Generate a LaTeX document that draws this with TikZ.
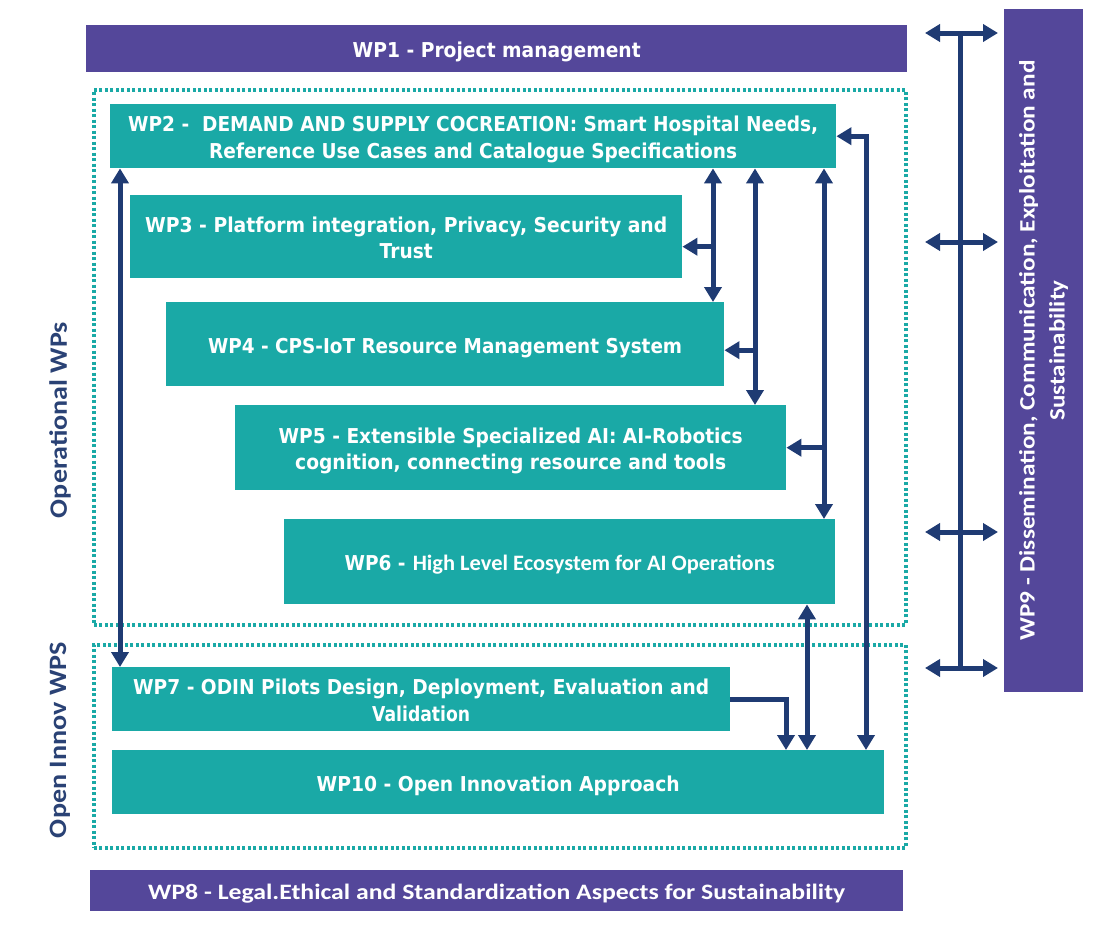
\documentclass[tikz,border=0pt]{standalone}
\usepackage{fontspec}
\usepackage{graphicx}
\setmainfont{DejaVu Sans}
\newfontfamily\calfont{Carlito}
\usetikzlibrary{arrows.meta,calc}
\definecolor{tealbox}{HTML}{1AA9A6}
\definecolor{purpbar}{HTML}{54479A}
\definecolor{navyline}{HTML}{1F3B73}
\definecolor{navytext}{HTML}{2A4275}
\newsavebox\fitbox
\newcommand\hfit[2]{\sbox\fitbox{#2}\pgfmathsetmacro\fitr{#1/\the\wd\fitbox}\scalebox{\fitr}[1]{\usebox\fitbox}}
\newcommand\topstrut{\rule{0pt}{23.5pt}}
\newcommand\botstrut{\rule[-5.5pt]{0pt}{5.5pt}}
\begin{document}
\begin{tikzpicture}[x=1pt,y=-1pt,
  >={Triangle[length=15pt,width=17pt]},
  wpbox/.style={fill=tealbox,text=white,inner sep=0pt,anchor=north west,align=center,
    font=\bfseries\fontsize{20.5}{26.5}\selectfont},
  barbox/.style={fill=purpbar,text=white,inner sep=0pt,align=center},
  dotframe/.style={draw=tealbox,line width=3.5pt,dash pattern=on 2.8pt off 2.7pt,inner sep=0pt,anchor=north west},
  link/.style={draw=navyline,line width=5pt},
  sidelabel/.style={rotate=90,text=navytext,font=\calfont\bfseries\fontsize{25}{25}\selectfont}]
\useasboundingbox (0,0) rectangle (1117,929);
\fill[white] (0,0) rectangle (1117,929);

% dotted group frames
\node[dotframe,minimum width=812pt,minimum height=535pt] (op) at (92,88) {};
\node[dotframe,minimum width=812pt,minimum height=203pt] (oi) at (92,643) {};

% side labels
\node[sidelabel] (oplab) at (60,420) {\hfit{196}{Operational WPs}};
\node[sidelabel] (oilab) at (60,740) {\hfit{196}{Open Innov WPS}};

% purple bars
\node[barbox,anchor=north west,minimum width=821pt,minimum height=47pt,
  font=\bfseries\fontsize{20.5}{24}\selectfont] (wp1) at (86,25)
  {\topstrut\hfit{288}{WP1 - Project management}\botstrut};
\node[barbox,anchor=north west,minimum width=813pt,minimum height=41pt,
  font=\calfont\bfseries\fontsize{22}{24}\selectfont] (wp8) at (90,870)
  {\topstrut\hfit{697}{WP8 - Legal.Ethical and Standardization Aspects for Sustainability}\botstrut};
\node[barbox,rotate=90,minimum width=683pt,minimum height=79pt,
  font=\calfont\bfseries\fontsize{22}{30}\selectfont] (wp9) at (1043.5,350.5)
  {\hfit{580}{WP9 - Dissemination, Communication, Exploitation and}\\\hfit{140}{Sustainability}};

% teal work-package boxes
\node[wpbox,minimum width=726pt,minimum height=64pt] (wp2) at (110,104)
  {\topstrut\hfit{690}{WP2 -\ \ DEMAND AND SUPPLY COCREATION: Smart Hospital Needs,}\\\hfit{528}{Reference Use Cases and Catalogue Specifications}\botstrut};
\node[wpbox,minimum width=552pt,minimum height=83pt] (wp3) at (130,195)
  {\topstrut\hfit{522}{WP3 - Platform integration, Privacy, Security and}\\\hfit{53}{Trust}\botstrut};
\node[wpbox,minimum width=558pt,minimum height=84pt] (wp4) at (166,302)
  {\topstrut\hfit{474}{WP4 - CPS-IoT Resource Management System}\botstrut};
\node[wpbox,minimum width=551pt,minimum height=85pt] (wp5) at (235,405)
  {\topstrut\hfit{464}{WP5 - Extensible Specialized AI: AI-Robotics}\\\hfit{431}{cognition, connecting resource and tools}\botstrut};
\node[wpbox,minimum width=551pt,minimum height=85pt] (wp6) at (284,519)
  {\topstrut\hfit{61}{WP6 -} {\calfont\fontsize{22}{24}\selectfont\hfit{362}{High Level Ecosystem for AI Operations}}\botstrut};
\node[wpbox,minimum width=618pt,minimum height=64pt] (wp7) at (112,667)
  {\topstrut\hfit{576}{WP7 - ODIN Pilots Design, Deployment, Evaluation and}\\\hfit{98}{Validation}\botstrut};
\node[wpbox,minimum width=772pt,minimum height=64pt] (wp10) at (112,750)
  {\topstrut\hfit{363}{WP10 - Open Innovation Approach}\botstrut};

% connector columns
\coordinate (xa) at (120,0);
\coordinate (xb) at (713,0);
\coordinate (xc) at (755,0);
\coordinate (xd) at (824,0);
\coordinate (xe) at (866,0);
\coordinate (xf) at (807,0);
\coordinate (xg) at (786,0);

\draw[link,<->] (wp2.south -| xa) -- (wp7.north -| xa);
\draw[link,<->] (wp2.south -| xb) -- (wp4.north -| xb);
\draw[link,->] ($(wp3.east -| xb)+(0,10)$) -- ($(wp3.east)+(0,10)$);
\draw[link,<->] (wp2.south -| xc) -- (wp5.north -| xc);
\draw[link,->] ($(wp4.east -| xc)+(0,6)$) -- ($(wp4.east)+(0,6)$);
\draw[link,<->] (wp2.south -| xd) -- (wp6.north -| xd);
\draw[link,->] (wp5.east -| xd) -- (wp5.east);
\draw[link,<->] (wp10.north -| xe) |- (wp2.east);
\draw[link,<->] (wp6.south -| xf) -- (wp10.north -| xf);
\draw[link,->] (wp7.east) -| (wp10.north -| xg);

% WP9 bus
\coordinate (b1) at (960,33);
\coordinate (b4) at (960,668);
\coordinate (l1) at (925,33);  \coordinate (r1) at (998,33);
\coordinate (l2) at (925,242); \coordinate (r2) at (998,242);
\coordinate (l3) at (925,532); \coordinate (r3) at (998,532);
\coordinate (l4) at (925,668); \coordinate (r4) at (998,668);
\draw[link] (b1) -- (b4);
\draw[link,<->] (l1) -- (r1);
\draw[link,<->] (l2) -- (r2);
\draw[link,<->] (l3) -- (r3);
\draw[link,<->] (l4) -- (r4);
\end{tikzpicture}
\end{document}
